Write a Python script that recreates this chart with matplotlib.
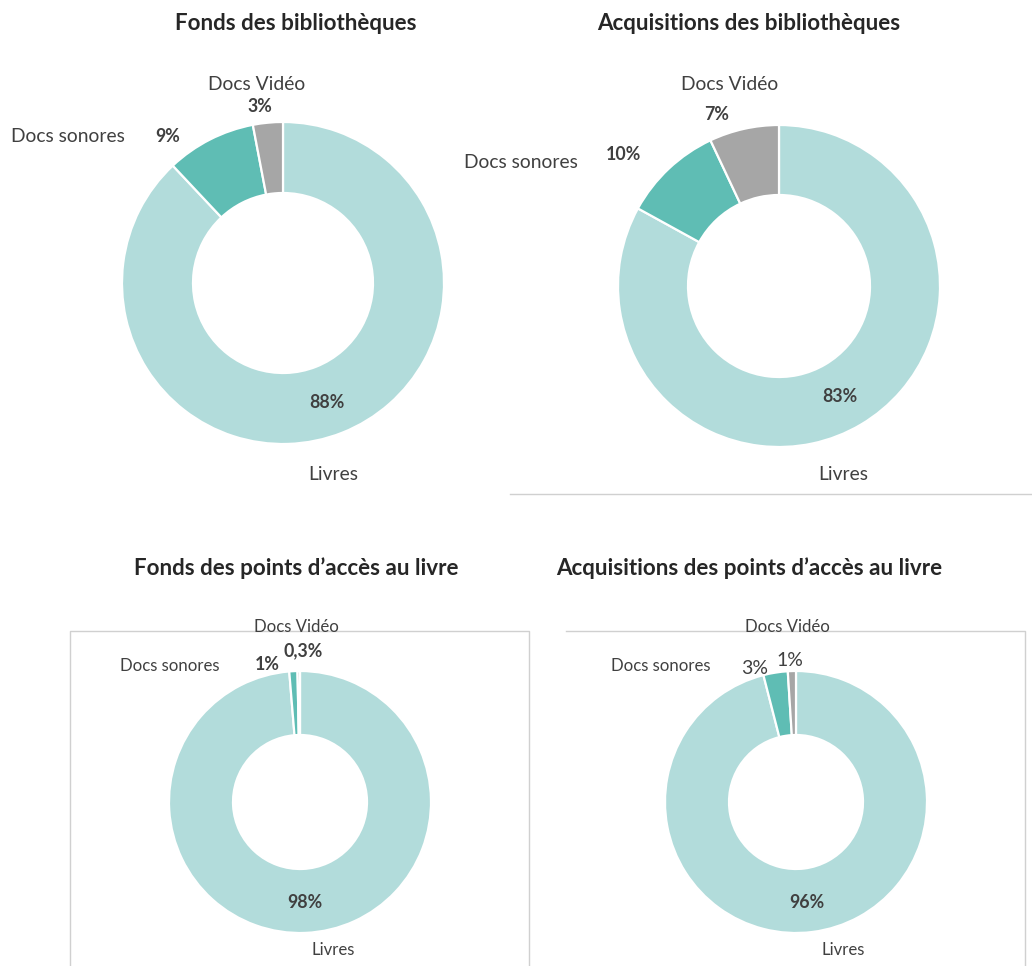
import matplotlib
matplotlib.use("Agg")
import matplotlib.pyplot as plt
from matplotlib.lines import Line2D

plt.rcParams['font.family'] = ['Lato', 'DejaVu Sans']

categories = ["Livres", "Docs sonores", "Docs Vidéo"]
titles = ["Fonds des bibliothèques", "Acquisitions des bibliothèques",
          "Fonds des points d\u2019accès au livre", "Acquisitions des points d\u2019accès au livre"]
fonds_biblio = [88, 9, 3]
acq_biblio = [83, 10, 7]
fonds_pal = [98, 1, 0.3]
acq_pal = [96, 3, 1]
series = [fonds_biblio, acq_biblio, fonds_pal, acq_pal]

colors = ["#B2DCDB", "#5FBDB4", "#A6A6A6"]
TXT = "#404040"

W, H = 1032, 966
fig = plt.figure(figsize=(W / 100, H / 100), dpi=100)
ax = fig.add_axes([0, 0, 1, 1])
ax.set_xlim(0, W)
ax.set_ylim(0, H)
ax.axis("off")

TSHIFT = 2  # text vertical nudge (px)

def Y(y):
    return H - y

def fmt(v):
    if v < 1:
        return ("%.1f" % v).replace(".", ",") + "%"
    return "%d%%" % round(v)

B = (12.8, "bold")
layout = [
    dict(c=(283, 283), R=161, r=90, title=(296, 22), fs=13.9,
         cat=[(333, 473), (68, 135), (257, 83)], pct=[(327, 400), (168, 134), (260, 104)],
         pst=[B, B, B]),
    dict(c=(779, 286), R=161, r=91, title=(749, 22), fs=13.9,
         cat=[(843, 473), (521, 161), (730, 83)], pct=[(840, 394), (623, 153), (717, 112)],
         pst=[B, B, B]),
    dict(c=(300, 802), R=131, r=67, title=(296, 566), fs=12.1,
         cat=[(333, 948), (170, 664), (296, 625)], pct=[(305, 900), (267, 663), (303, 649)],
         pst=[B, B, B]),
    dict(c=(796, 802), R=131, r=67, title=(749, 566), fs=12.1,
         cat=[(843, 948), (661, 664), (787, 625)], pct=[(807, 900), (755, 666), (790, 658)],
         pst=[B, (14, "normal"), (14, "normal")]),
]

frame = "#D0D0D0"
ax.add_line(Line2D([510, 1031], [Y(494), Y(494)], color=frame, lw=1))
ax.add_line(Line2D([70, 70, 529, 529], [Y(966), Y(631), Y(631), Y(966)], color=frame, lw=1))
ax.add_line(Line2D([566, 1025, 1025], [Y(631), Y(631), Y(966)], color=frame, lw=1))

for vals, lay, title in zip(series, layout, titles):
    cx, cy = lay["c"]
    R, r = lay["R"], lay["r"]
    ax.pie(vals, colors=colors, startangle=90, counterclock=False,
           center=(cx, Y(cy)), radius=R, frame=True,
           wedgeprops=dict(width=R - r, edgecolor="white", linewidth=1.6))
    ax.text(lay["title"][0], Y(lay["title"][1] + TSHIFT), title, ha="center", va="center",
            fontsize=16.1, fontweight="bold", color="#262626")
    for name, v, (tx, ty), (px, py), (pfs, pw) in zip(categories, vals, lay["cat"],
                                                       lay["pct"], lay["pst"]):
        ax.text(tx, Y(ty + TSHIFT), name, ha="center", va="center", fontsize=lay["fs"], color=TXT)
        ax.text(px, Y(py + TSHIFT), fmt(v), ha="center", va="center", fontsize=pfs,
                fontweight=pw, color=TXT)

ax.set_xlim(0, W)
ax.set_ylim(0, H)
ax.set_aspect("auto")
ax.axis("off")
fig.savefig("out.png", dpi=100)
